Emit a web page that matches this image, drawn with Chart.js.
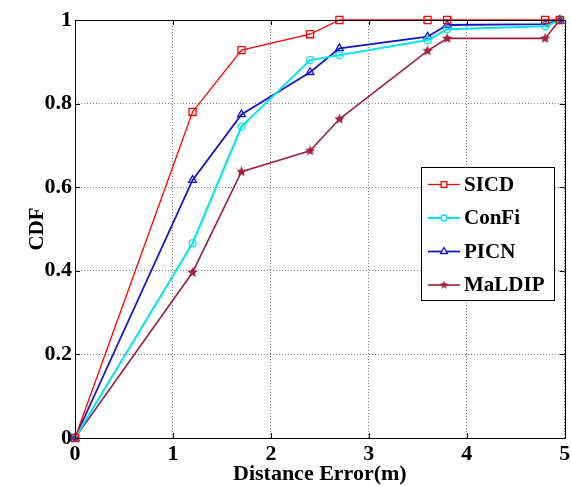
<!DOCTYPE html>
<html>
<head>
<meta charset="utf-8">
<script src="https://cdn.jsdelivr.net/npm/chart.js@4"></script>
<style>
  html, body { margin: 0; padding: 0; background: #fff; }
  #wrap { width: 571px; height: 486px; }
</style>
</head>
<body>
<div id="wrap"><canvas id="cdfChart" width="571" height="486"></canvas></div>
<script>
// CDF of distance error
const distance = [0, 1.2, 1.7, 2.4, 2.7, 3.6, 3.8, 4.8, 4.95];
const sicd   = [0, 0.78, 0.928, 0.966, 1, 1, 1, 1, 1];
const confi  = [0, 0.466, 0.745, 0.904, 0.916, 0.952, 0.978, 0.985, 1];
const picn   = [0, 0.617, 0.774, 0.875, 0.932, 0.96, 0.988, 0.99, 1];
const maldip = [0, 0.396, 0.637, 0.687, 0.763, 0.926, 0.956, 0.956, 1];
const seriesNames = ['SICD', 'ConFi', 'PICN', 'MaLDIP'];
const xTicks = [0, 1, 2, 3, 4, 5];
const yTicks = [0, 0.2, 0.4, 0.6, 0.8, 1];

const FONT = "'Liberation Serif', 'Times New Roman', serif";

function makeStar(color, size) {
    const c = document.createElement('canvas');
    c.width = size; c.height = size;
    const g = c.getContext('2d');
    const cx = size / 2, cy = size / 2, R = size / 2, r = R * 0.45;
    g.fillStyle = color;
    g.beginPath();
    for (let i = 0; i < 10; i++) {
        const ang = -Math.PI / 2 + i * Math.PI / 5;
        const rad = i % 2 ? r : R;
        g.lineTo(cx + rad * Math.cos(ang), cy + rad * Math.sin(ang));
    }
    g.closePath();
    g.fill();
    return c;
}

const starBig = makeStar('#A0203F', 11);
const starSmall = makeStar('#A0203F', 9);

function toPoints(ys) {
    return distance.map((d, i) => ({ x: d, y: ys[i] }));
}

const styles = [
    { color: '#FF0000', width: 1.3, pointStyle: 'rect', radius: 5, legendRadius: 4 },
    { color: '#00E6EA', width: 2, pointStyle: 'circle', radius: 3.5, legendRadius: 3 },
    { color: '#1414C8', width: 1.8, pointStyle: 'triangle', radius: 4.5, legendRadius: 4 },
    { color: '#A0203F', width: 1.6, pointStyle: starBig, radius: 5, legendRadius: 4, legendImg: starSmall }
];
const values = [sicd, confi, picn, maldip];

// MATLAB style frame, inward ticks and legend box
const matlabBox = {
    id: 'matlabBox',
    afterDatasetsDraw(chart) {
        const { ctx, chartArea: a, scales: { x, y } } = chart;
        ctx.save();
        ctx.strokeStyle = '#000';
        ctx.lineWidth = 1;
        ctx.setLineDash([]);
        ctx.strokeRect(Math.round(a.left) + 0.5, Math.round(a.top) + 0.5,
            Math.round(a.width), Math.round(a.height));
        ctx.beginPath();
        xTicks.forEach(v => {
            const px = Math.round(x.getPixelForValue(v)) + 0.5;
            ctx.moveTo(px, a.bottom); ctx.lineTo(px, a.bottom - 5);
            ctx.moveTo(px, a.top); ctx.lineTo(px, a.top + 5);
        });
        yTicks.forEach(v => {
            const py = Math.round(y.getPixelForValue(v)) + 0.5;
            ctx.moveTo(a.left, py); ctx.lineTo(a.left + 5, py);
            ctx.moveTo(a.right, py); ctx.lineTo(a.right - 5, py);
        });
        ctx.stroke();

        // legend
        const lw = 133, lh = 133;
        const lx = Math.round(a.right - 11 - lw), ly = Math.round(a.top + 147);
        ctx.fillStyle = '#fff';
        ctx.fillRect(lx, ly, lw, lh);
        ctx.strokeStyle = '#000';
        ctx.strokeRect(lx + 0.5, ly + 0.5, lw, lh);
        ctx.font = 'bold 21px ' + FONT;
        ctx.textBaseline = 'middle';
        ctx.textAlign = 'left';
        seriesNames.forEach((name, i) => {
            const s = styles[i];
            const cy = ly + 17.5 + i * 33.5;
            ctx.strokeStyle = s.color;
            ctx.lineWidth = s.width;
            ctx.beginPath();
            ctx.moveTo(lx + 7, cy); ctx.lineTo(lx + 39, cy);
            ctx.stroke();
            ctx.fillStyle = '#fff';
            ctx.lineWidth = 1.3;
            Chart.helpers.drawPoint(ctx, {
                pointStyle: s.legendImg || s.pointStyle,
                radius: s.legendRadius,
                rotation: 0,
                borderWidth: 1.3
            }, lx + 23, cy);
            ctx.fillStyle = '#000';
            ctx.fillText(name, lx + 43, cy + 1);
        });
        ctx.restore();
    }
};

new Chart(document.getElementById('cdfChart'), {
    type: 'line',
    data: {
        datasets: seriesNames.map((name, i) => ({
            label: name,
            data: toPoints(values[i]),
            borderColor: styles[i].color,
            borderWidth: styles[i].width,
            backgroundColor: '#fff',
            pointStyle: styles[i].pointStyle,
            pointRadius: styles[i].radius,
            pointBorderColor: styles[i].color,
            pointBackgroundColor: 'rgba(0,0,0,0)',
            pointBorderWidth: 1.3,
            tension: 0,
            fill: false,
            clip: false
        }))
    },
    options: {
        responsive: false,
        animation: false,
        layout: { padding: { left: 0, right: 4, top: 20, bottom: 0 } },
        plugins: {
            legend: { display: false },
            tooltip: { enabled: false }
        },
        scales: {
            x: {
                type: 'linear',
                min: 0,
                max: 5,
                afterBuildTicks: scale => { scale.ticks = xTicks.map(v => ({ value: v })); },
                afterFit: scale => {
                    scale.height = 48;
                    scale.paddingLeft = 0;
                    scale.paddingRight = 0;
                },
                grid: { color: '#808080', lineWidth: 1, drawTicks: false },
                border: { display: false, dash: [1, 2] },
                ticks: {
                    padding: 3,
                    color: '#000',
                    font: { family: FONT, size: 22, weight: 'bold' },
                    callback: v => String(v)
                },
                title: {
                    display: true,
                    text: 'Distance Error(m)',
                    color: '#000',
                    font: { family: FONT, size: 22, weight: 'bold', lineHeight: 1.1 },
                    padding: { top: 0, bottom: 0 }
                }
            },
            y: {
                min: 0,
                max: 1,
                afterBuildTicks: scale => { scale.ticks = yTicks.map(v => ({ value: v })); },
                afterFit: scale => {
                    scale.width = 75;
                    scale.paddingTop = 0;
                    scale.paddingBottom = 0;
                },
                grid: { color: '#808080', lineWidth: 1, drawTicks: false },
                border: { display: false, dash: [1, 2] },
                ticks: {
                    padding: 3,
                    color: '#000',
                    font: { family: FONT, size: 22, weight: 'bold' },
                    callback: v => (v === 0 || v === 1) ? String(v) : v.toFixed(1)
                },
                title: {
                    display: true,
                    text: 'CDF',
                    color: '#000',
                    font: { family: FONT, size: 21, weight: 'bold', lineHeight: 1.2 },
                    padding: { top: 25, bottom: 0 }
                }
            }
        }
    },
    plugins: [matlabBox]
});
</script>
</body>
</html>
